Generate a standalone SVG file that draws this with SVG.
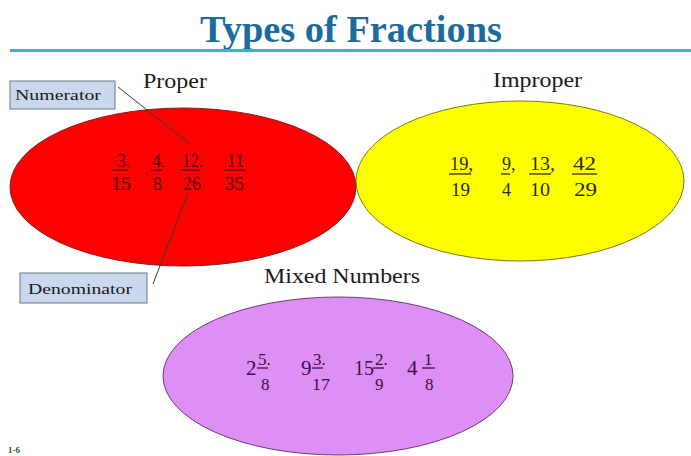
<svg xmlns="http://www.w3.org/2000/svg" width="691" height="456" viewBox="0 0 691 456">
<style>
.serif{font-family:"Liberation Serif","Times New Roman",serif}
.lbl{font-family:"Liberation Serif","Times New Roman",serif;font-size:20px;fill:#1a1a1a}
.box{fill:#c9d8ee;stroke:#7f8a99;stroke-width:1.2}
.boxt{font-family:"Liberation Serif","Times New Roman",serif;font-size:15px;fill:#1a1a1a}
.fr{font-family:"Liberation Serif","Times New Roman",serif;font-size:18px}
.red{fill:#4a0000}
.yel{fill:#2a2a00}
.pur{fill:#3a1040}
.ul{stroke-width:1.3}
</style>
<rect width="691" height="456" fill="#ffffff"/>
<g id="title">
<text x="351" y="42" text-anchor="middle" class="serif" font-size="37" font-weight="bold" fill="#1d6b9c" textLength="302" lengthAdjust="spacingAndGlyphs">Types of Fractions</text>
<rect x="10" y="49" width="681" height="3" fill="#3fb2cb"/>
</g>
<g id="proper">
<ellipse cx="183" cy="187" rx="173" ry="79" fill="#ff0000" stroke="#8a1a1a" stroke-width="1"/>
<text x="143" y="88" class="lbl" textLength="64" lengthAdjust="spacingAndGlyphs">Proper</text>
<g class="fr red">
<text x="117" y="167">3.</text>
<text x="111" y="190" textLength="20" lengthAdjust="spacingAndGlyphs">15</text>
<text x="152" y="167">4.</text>
<text x="153" y="190">8</text>
<text x="182" y="167" textLength="21" lengthAdjust="spacingAndGlyphs">12.</text>
<text x="183" y="190" textLength="18" lengthAdjust="spacingAndGlyphs">26</text>
<text x="227" y="167" textLength="17" lengthAdjust="spacingAndGlyphs">11</text>
<text x="225" y="190" textLength="19" lengthAdjust="spacingAndGlyphs">35</text>
</g>
<g stroke="#4a0000" class="ul">
<line x1="112" y1="170" x2="128" y2="170"/>
<line x1="151" y1="170" x2="162" y2="170"/>
<line x1="181" y1="170" x2="200" y2="170"/>
<line x1="224" y1="170" x2="246" y2="170"/>
</g>
</g>
<g id="improper">
<ellipse cx="520" cy="181" rx="164" ry="80" fill="#ffff00" stroke="#7a7a10" stroke-width="1"/>
<text x="493" y="87" class="lbl" textLength="89" lengthAdjust="spacingAndGlyphs">Improper</text>
<g class="fr yel" font-size="21">
<text x="450" y="170" textLength="23" lengthAdjust="spacingAndGlyphs">19,</text>
<text x="451" y="196" textLength="19" lengthAdjust="spacingAndGlyphs">19</text>
<text x="502" y="170">9,</text>
<text x="502" y="196">4</text>
<text x="530" y="170" textLength="25" lengthAdjust="spacingAndGlyphs">13,</text>
<text x="530" y="196" textLength="20" lengthAdjust="spacingAndGlyphs">10</text>
<text x="573" y="170" textLength="23" lengthAdjust="spacingAndGlyphs">42</text>
<text x="574" y="196" textLength="23" lengthAdjust="spacingAndGlyphs">29</text>
</g>
<g stroke="#2a2a00" class="ul">
<line x1="449" y1="174" x2="471" y2="174"/>
<line x1="501" y1="174" x2="510" y2="174"/>
<line x1="529" y1="174" x2="551" y2="174"/>
<line x1="572" y1="174" x2="597" y2="174"/>
</g>
</g>
<g id="mixed">
<ellipse cx="338" cy="376" rx="175" ry="79" fill="#de8ff6" stroke="#6a3a7a" stroke-width="1"/>
<text x="264" y="283" class="lbl" textLength="156" lengthAdjust="spacingAndGlyphs">Mixed Numbers</text>
<g class="serif pur" font-size="21">
<text x="246" y="375">2</text>
<text x="301" y="375">9</text>
<text x="354" y="375" textLength="20" lengthAdjust="spacingAndGlyphs">15</text>
<text x="407" y="375">4</text>
</g>
<g class="serif pur" font-size="17">
<text x="258" y="365">5.</text>
<text x="261" y="390">8</text>
<text x="313" y="365">3.</text>
<text x="312" y="390" textLength="18" lengthAdjust="spacingAndGlyphs">17</text>
<text x="375" y="365">2.</text>
<text x="375" y="390">9</text>
<text x="424" y="365">1</text>
<text x="425" y="390">8</text>
</g>
<g stroke="#3a1040" class="ul">
<line x1="257" y1="368" x2="268" y2="368"/>
<line x1="312" y1="368" x2="323" y2="368"/>
<line x1="373" y1="368" x2="384" y2="368"/>
<line x1="422" y1="368" x2="435" y2="368"/>
</g>
</g>
<g id="numerator">
<rect x="10" y="81" width="105" height="28" class="box"/>
<text x="15" y="100" class="boxt" textLength="86" lengthAdjust="spacingAndGlyphs">Numerator</text>
</g>
<g id="denominator">
<rect x="20" y="273" width="127" height="30" class="box"/>
<text x="28" y="294" class="boxt" textLength="104" lengthAdjust="spacingAndGlyphs">Denominator</text>
</g>
<g id="connectors" stroke="#3a3a3a" stroke-width="1" fill="none">
<line x1="118" y1="87" x2="190" y2="144"/>
<line x1="188" y1="193" x2="153" y2="284"/>
</g>
<g id="footer">
<text x="8" y="453" class="serif" font-size="9" font-weight="bold" fill="#3a5a2a">1-6</text>
</g>
</svg>
